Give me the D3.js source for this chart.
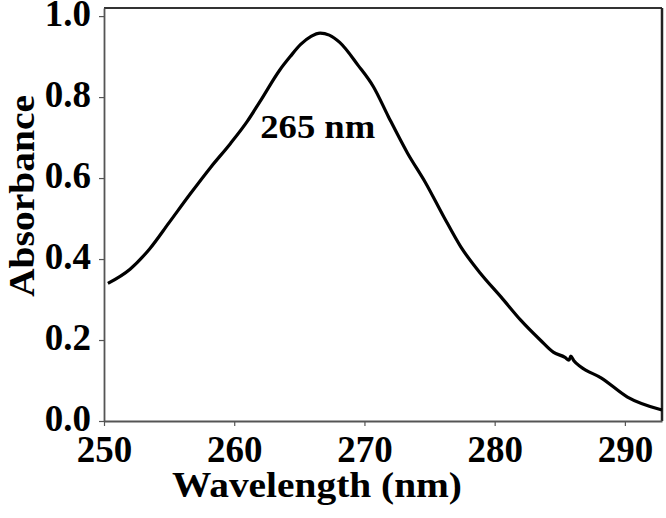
<!DOCTYPE html>
<html>
<head>
<meta charset="utf-8">
<script src="https://cdn.jsdelivr.net/npm/d3@7"></script>
<style>
  body { margin: 0; background: #fff; }
  svg { display: block; }
</style>
</head>
<body>
<svg id="chart"></svg>
<script>
const width = 666;
const height = 518;
const margin = { top: 8, left: 104, bottom: 97, right: 4 };

// wavelength (nm) and absorbance
const wavelengths = [250.3, 252.0, 253.5, 255.0, 256.6, 258.2, 259.7, 261.0, 262.0, 263.5, 264.3, 265.1,
                     265.9, 266.6, 267.3, 268.1, 269.5, 270.7, 271.85, 273.3, 274.7, 276.1, 277.4, 278.9,
                     280.5, 282.0, 283.5, 284.5, 285.4, 285.7, 285.85, 286.1, 286.6, 288.2, 290.2, 292.85];
const absorbance  = [0.340, 0.375, 0.425, 0.490, 0.560, 0.627, 0.685, 0.740, 0.790, 0.867, 0.900, 0.930,
                     0.950, 0.958, 0.953, 0.935, 0.879, 0.825, 0.751, 0.662, 0.588, 0.504, 0.430, 0.365,
                     0.306, 0.249, 0.200, 0.170, 0.157, 0.150, 0.160, 0.148, 0.134, 0.106, 0.059, 0.027];
const xTicks = [250, 260, 270, 280, 290];
const yTicks = [0.0, 0.2, 0.4, 0.6, 0.8, 1.0];
const peakLabel = "265 nm";
const xTitle = "Wavelength (nm)";
const yTitle = "Absorbance";

const data = wavelengths.map((w, i) => ({ w: w, a: absorbance[i] }));
const font = "'Liberation Serif', 'Times New Roman', serif";

let svg = d3.select("#chart")
  .attr("width", width)
  .attr("height", height);

let xScale = d3.scaleLinear()
  .domain([250, 292.85])
  .range([margin.left, width - margin.right]);

let yScale = d3.scaleLinear()
  .domain([0, 1.02])
  .range([height - margin.bottom, margin.top]);

// frame top + right
svg.append("line")
  .attr("x1", xScale(250)).attr("x2", xScale(292.85))
  .attr("y1", yScale(1.02)).attr("y2", yScale(1.02))
  .attr("stroke", "#333").attr("stroke-width", 2);
svg.append("line")
  .attr("x1", xScale(292.85)).attr("x2", xScale(292.85))
  .attr("y1", yScale(1.02)).attr("y2", yScale(0))
  .attr("stroke", "#222").attr("stroke-width", 2.5);

// axes
let xAxis = d3.axisBottom(xScale)
  .tickValues(xTicks)
  .tickFormat(d3.format("d"))
  .tickSize(5)
  .tickPadding(11)
  .tickSizeOuter(0);

let yAxis = d3.axisLeft(yScale)
  .tickValues(yTicks)
  .tickFormat(d3.format(".1f"))
  .tickSize(5)
  .tickPadding(8)
  .tickSizeOuter(0);

let gx = svg.append("g")
  .attr("transform", `translate(0,${yScale(0)})`)
  .call(xAxis);

let gy = svg.append("g")
  .attr("transform", `translate(${xScale(250)},0)`)
  .call(yAxis);

[gx, gy].forEach(g => {
  g.selectAll("path").attr("stroke", "#555").attr("stroke-width", 1.8);
  g.selectAll("line").attr("stroke", "#555").attr("stroke-width", 1.2);
  g.selectAll("text")
    .attr("fill", "#000")
    .style("font-family", font)
    .style("font-weight", "bold")
    .style("font-size", "37px");
});
gx.selectAll("text").attr("dy", "0.68em");
gy.selectAll("text").attr("dy", "0.26em");

// spectrum
let line = d3.line()
  .x(d => xScale(d.w))
  .y(d => yScale(d.a))
  .curve(d3.curveMonotoneX);

svg.append("path")
  .datum(data)
  .attr("fill", "none")
  .attr("stroke", "#000")
  .attr("stroke-width", 3.2)
  .attr("stroke-linejoin", "round")
  .attr("d", line);

// peak label
svg.append("text")
  .attr("x", xScale(262.0))
  .attr("y", yScale(0.699))
  .attr("textLength", 115)
  .attr("lengthAdjust", "spacingAndGlyphs")
  .text(peakLabel)
  .style("font-family", font)
  .style("font-weight", "bold")
  .style("font-size", "33px");

// axis titles
svg.append("text")
  .attr("text-anchor", "middle")
  .attr("x", 317)
  .attr("y", 497)
  .attr("textLength", 290)
  .attr("lengthAdjust", "spacingAndGlyphs")
  .text(xTitle)
  .style("font-family", font)
  .style("font-weight", "bold")
  .style("font-size", "35px");

svg.append("text")
  .attr("text-anchor", "middle")
  .attr("transform", "translate(34,196) rotate(-90)")
  .attr("textLength", 202)
  .attr("lengthAdjust", "spacingAndGlyphs")
  .text(yTitle)
  .style("font-family", font)
  .style("font-weight", "bold")
  .style("font-size", "35px");
</script>
</body>
</html>
